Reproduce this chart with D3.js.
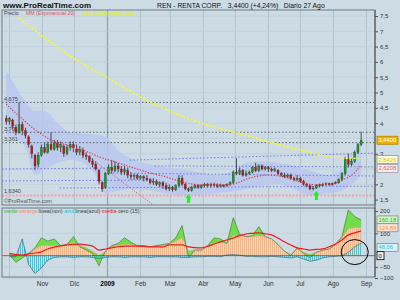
<!DOCTYPE html>
<html>
<head>
<meta charset="utf-8">
<style>
  body { margin: 0; background: #ccdbe4; }
  svg { display: block; font-family: "Liberation Sans", Arial, sans-serif; }
</style>
</head>
<body>
<svg id="chart" width="400" height="300"></svg>
<script src="https://d3js.org/d3.v7.min.js"></script>
<script>
  // candles every 3 days starting 28 Sep 2008, last one 27 Aug 2009
  const START = new Date(2008, 8, 28)
  const openP = [4.15,4.05,4.1,3.85,3.7,3.95,3.75,3.55,3.25,2.95,
    2.65,2.95,3.2,3.05,3.3,3.15,3.35,3.2,3.25,3.0,
    3.2,3.3,3.15,3.05,3.1,2.95,2.9,2.75,2.65,2.45,
    2.05,1.9,2.35,2.55,2.45,2.6,2.5,2.4,2.45,2.3,
    2.25,2.3,2.2,2.25,2.2,2.15,2.05,2.1,2.0,2.05,
    1.95,1.85,1.9,1.82,1.95,2.2,2.0,1.85,1.8,1.9,
    1.95,1.9,1.95,2.0,1.95,2.0,1.98,1.93,1.97,1.95,
    2.0,2.05,2.4,2.35,2.45,2.3,2.35,2.4,2.55,2.45,
    2.6,2.5,2.55,2.5,2.45,2.45,2.35,2.3,2.25,2.3,
    2.2,2.15,2.2,2.1,2.0,1.95,1.85,1.88,1.95,1.98,
    2.0,2.02,1.98,2.03,2.05,2.15,2.35,2.8,2.65,2.75,
    3.05,3.3]
  const closeP = [4.05,4.15,3.9,3.7,3.95,3.75,3.6,3.3,3.0,2.6,
    2.95,3.2,3.05,3.3,3.15,3.35,3.2,3.3,3.0,3.2,
    3.3,3.2,3.05,3.15,2.95,2.9,2.75,2.65,2.5,2.1,
    1.85,2.35,2.55,2.45,2.6,2.5,2.4,2.5,2.3,2.25,
    2.3,2.2,2.25,2.2,2.15,2.05,2.1,2.0,2.05,1.95,
    1.85,1.9,1.82,1.95,2.2,2.0,1.85,1.8,1.9,1.95,
    1.9,1.95,2.0,1.95,2.0,1.98,1.93,1.97,1.95,2.0,
    2.05,2.4,2.35,2.45,2.3,2.35,2.4,2.55,2.45,2.6,
    2.5,2.55,2.5,2.45,2.5,2.35,2.3,2.25,2.3,2.2,
    2.15,2.2,2.1,2.0,1.95,1.85,1.88,1.95,1.98,2.0,
    2.02,1.98,2.03,2.05,2.15,2.35,2.8,2.65,2.75,3.05,
    3.3,3.44]
  const highP = [4.25,4.2,4.15,3.95,4.675,4.05,3.85,3.6,3.3,3.0,
    3.05,3.3,3.35,3.4,3.7,3.45,3.45,3.4,3.3,3.3,
    3.4,3.4,3.3,3.25,3.2,3.05,2.95,2.85,2.75,2.5,
    2.1,2.4,2.65,2.8,2.75,2.7,2.6,2.6,2.55,2.4,
    2.35,2.35,2.3,2.3,2.3,2.2,2.2,2.15,2.1,2.1,
    2.05,2.0,1.95,2.0,2.3,2.3,2.05,1.9,1.95,2.0,
    2.0,2.0,2.05,2.05,2.05,2.05,2.03,2.02,2.0,2.03,
    2.1,2.45,2.85,2.55,2.5,2.45,2.45,2.6,2.7,2.65,
    2.65,2.6,2.6,2.55,2.55,2.5,2.4,2.38,2.35,2.35,
    2.25,2.3,2.25,2.15,2.05,2.0,1.95,2.0,2.02,2.05,
    2.06,2.05,2.06,2.1,2.2,2.4,2.9,3.0,2.85,3.1,
    3.35,3.72]
  const lowP = [3.95,3.95,3.8,3.6,3.65,3.6,3.5,3.2,2.85,2.47,
    2.55,2.9,3.0,3.0,3.1,3.1,3.1,3.05,2.9,2.95,
    3.1,3.05,2.95,2.95,2.85,2.8,2.7,2.55,2.45,2.0,
    1.75,1.85,2.3,2.35,2.4,2.4,2.3,2.3,2.2,2.15,
    2.15,2.15,2.15,2.1,2.1,2.0,1.98,1.95,1.9,1.85,
    1.8,1.78,1.76,1.78,1.9,1.95,1.8,1.75,1.76,1.85,
    1.85,1.85,1.9,1.9,1.9,1.92,1.88,1.9,1.9,1.92,
    1.95,2.0,2.3,2.3,2.25,2.25,2.3,2.35,2.4,2.4,
    2.45,2.45,2.4,2.4,2.4,2.3,2.25,2.2,2.2,2.15,
    2.1,2.1,2.05,1.95,1.9,1.8,1.8,1.85,1.9,1.93,
    1.95,1.95,1.96,2.0,2.02,2.1,2.3,2.55,2.6,2.7,
    3.0,3.25]

  // moving averages, read at some candle indexes
  const ema20Idx = [0,4,10,14,19,24,29,35,40,45,50,55,61,67,72,76,82,87,92,97,102,105,108,111]
  const ema20Val = [4.62,4.23,3.71,3.45,3.28,3.12,2.9,2.7,2.53,2.37,2.24,2.08,1.98,1.98,2.04,2.2,2.3,2.24,2.08,1.98,2.01,2.14,2.3,2.62]
  const ema200Idx = [4,22,30,45,61,71,92,102,107,111]
  const ema200Val = [7.43,6.06,5.57,4.69,4.0,3.71,3.12,2.89,2.86,2.84]

  // pale envelope round the price
  const bandIdx = [0,3,6,9,12,16,20,25,29,31,35,40,45,50,55,60,65,70,75,80,85,90,95,100,105,108,111]
  const bandUp = [5.7,5.2,4.7,4.4,4.4,4.0,3.7,3.65,3.6,3.55,3.1,2.8,2.65,2.55,2.5,2.4,2.3,2.4,2.7,2.75,2.7,2.6,2.45,2.3,2.5,3.0,3.4]
  const bandLo = [3.6,3.5,3.2,2.3,2.5,2.7,2.8,2.65,2.1,1.7,1.8,1.85,1.8,1.7,1.65,1.65,1.7,1.75,1.85,1.95,2.0,1.85,1.65,1.7,1.8,2.0,2.3]

  // horizontal levels
  const levelVals = [4.675, 3.701, 3.361]
  const levelLabels = ['4,675', '3,701', '3,361']
  const supportVal = 1.634
  const supportLabel = '1,6340'

  // blue dotted channel lines
  const blueFrom = ['2009-01-22','2008-09-24','2009-02-14','2008-09-24','2009-01-03','2008-11-17']
  const blueTo = ['2009-09-09','2009-01-03','2009-09-09','2009-02-19','2009-09-09','2009-09-09']
  const blueV1 = [2.79, 2.5, 2.6, 2.11, 2.37, 1.88]
  const blueV2 = [3.02, 2.53, 2.57, 2.14, 2.27, 1.94]

  // steep trend line
  const trendDates = ['2008-12-06', '2009-02-12']
  const trendVals = [3.11, 1.35]

  const arrowIdx = [57, 97]

  // oscillator panel, one value for every second candle (index 2j+1)
  const indG = [5,-30,-10,10,35,80,65,75,45,50,85,40,25,10,-45,20,45,55,80,60,
    45,45,40,45,50,55,80,135,-10,25,25,45,80,75,55,170,95,85,90,130,
    85,75,50,20,0,35,10,-10,15,25,30,50,85,205,175,160]
  const indO = [8,0,0,10,30,45,45,45,45,50,55,45,35,20,0,20,40,45,50,50,
    45,45,40,42,45,50,65,80,20,25,25,40,55,60,55,90,90,85,85,90,
    85,75,50,20,5,30,15,5,15,25,30,50,80,120,125,125]
  const indC = [-5,-5,75,-40,-80,-55,-20,-8,-5,-5,-8,-5,-5,-8,-12,-8,-5,-5,-8,-5,
    -5,-5,-8,-5,-5,-5,-5,-8,-8,-5,-5,-3,-3,-5,3,5,2,-3,-3,-5,
    -5,-3,-5,-8,-10,-5,-15,-25,-20,-10,-5,-3,0,15,40,55]
  const indR = [10,5,3,8,12,17,30,38,44,48,50,52,48,43,25,30,35,40,43,43,
    43,42,39,39,39,48,48,48,39,36,35,42,52,62,70,79,90,97,100,102,
    98,93,79,62,48,35,30,25,28,30,40,52,70,93,102,111]

  const priceTicks = [1.5, 2, 3, 4, 4.5, 5, 5.5, 6, 6.5, 7, 7.5]
  const indTicks = [200, 100, -50, -100]
  const monthNames = ['2009','Feb','Mar','Abr','May','Jun','Jul','Ago','Sep','Oct','Nov','Dic']

  const LEFT = 2, RIGHT = 375
  const P_TOP = 10, P_BOT = 205, I_TOP = 208, I_BOT = 277
  const BG = '#ccdbe4'

  const svg = d3.select('#chart')
  const dates = closeP.map((c, i) => d3.timeDay.offset(START, i * 3))
  const parse = d3.timeParse('%Y-%m-%d')

  const x = d3.scaleTime().domain([new Date(2008, 8, 24), new Date(2009, 8, 9)]).range([LEFT, RIGHT])
  const y = d3.scaleLinear().domain([1.5, 7.5]).range([199.6, 16])
  const yi = d3.scaleLinear().domain([-100, 200]).range([278, 211])
  const comma = d => String(d).replace('.', ',')

  svg.append('rect').attr('width', 400).attr('height', 300).attr('fill', BG)

  const defs = svg.append('defs')
  defs.append('clipPath').attr('id', 'clipP').append('rect')
    .attr('x', LEFT).attr('y', P_TOP).attr('width', RIGHT - LEFT).attr('height', P_BOT - P_TOP)
  defs.append('clipPath').attr('id', 'clipI').append('rect')
    .attr('x', LEFT).attr('y', I_TOP).attr('width', RIGHT - LEFT).attr('height', I_BOT - I_TOP)
  let pat = defs.append('pattern').attr('id', 'orangeStripe').attr('width', 2).attr('height', 4)
    .attr('patternUnits', 'userSpaceOnUse')
  pat.append('rect').attr('width', 2).attr('height', 4).attr('fill', '#f9d2b0')
  pat.append('line').attr('x1', 0.5).attr('x2', 0.5).attr('y1', 0).attr('y2', 4)
    .attr('stroke', '#f0a066').attr('stroke-width', 0.6)
  pat = defs.append('pattern').attr('id', 'cyanStripe').attr('width', 2).attr('height', 4)
    .attr('patternUnits', 'userSpaceOnUse')
  pat.append('line').attr('x1', 0.5).attr('x2', 0.5).attr('y1', 0).attr('y2', 4)
    .attr('stroke', '#22d4ee').attr('stroke-width', 1)

  // grid
  const months = d3.timeMonth.range(new Date(2008, 9, 1), new Date(2009, 8, 2))
  const grid = svg.append('g')
  months.forEach(m => {
    const dark = m.getMonth() === 0
    ;[[P_TOP, P_BOT], [I_TOP, I_BOT]].forEach(r => {
      grid.append('line').attr('x1', x(m)).attr('x2', x(m)).attr('y1', r[0]).attr('y2', r[1])
        .attr('stroke', dark ? '#8fa2b0' : '#b1c4d0').attr('stroke-width', dark ? 1.2 : 1)
    })
  })
  d3.range(2, 7.6, 0.5).forEach(v => {
    grid.append('line').attr('x1', LEFT).attr('x2', RIGHT).attr('y1', y(v)).attr('y2', y(v))
      .attr('stroke', '#bfd0da').attr('stroke-width', 0.8)
  })
  indTicks.concat([0]).forEach(v => {
    grid.append('line').attr('x1', LEFT).attr('x2', RIGHT).attr('y1', yi(v)).attr('y2', yi(v))
      .attr('stroke', '#bfd0da').attr('stroke-width', 0.8)
  })

  // price panel
  const pg = svg.append('g').attr('clip-path', 'url(#clipP)')
  const bandData = bandIdx.map((d, k) => ({ date: dates[d], up: bandUp[k], lo: bandLo[k] }))
  pg.append('path').datum(bandData)
    .attr('d', d3.area().x(d => x(d.date)).y0(d => y(d.lo)).y1(d => y(d.up)).curve(d3.curveMonotoneX))
    .attr('fill', '#b8c7ee').attr('opacity', 0.85)

  levelVals.forEach((v, k) => {
    pg.append('line').attr('x1', LEFT).attr('x2', RIGHT).attr('y1', y(v)).attr('y2', y(v))
      .attr('stroke', '#555').attr('stroke-width', 0.9).attr('stroke-dasharray', '1.5,2')
    pg.append('text').attr('x', 4).attr('y', y(v) - 1.5).text(levelLabels[k])
      .attr('font-size', 5.5).attr('fill', '#444')
  })

  blueFrom.forEach((d, k) => {
    pg.append('line')
      .attr('x1', x(parse(d))).attr('x2', x(parse(blueTo[k])))
      .attr('y1', y(blueV1[k])).attr('y2', y(blueV2[k]))
      .attr('stroke', '#6b6cf2').attr('stroke-width', 0.9).attr('stroke-dasharray', '1.5,2')
  })

  pg.append('line').attr('x1', LEFT).attr('x2', RIGHT).attr('y1', y(supportVal)).attr('y2', y(supportVal))
    .attr('stroke', '#f3a0ad').attr('stroke-width', 2).attr('stroke-dasharray', '2,1.5')
  pg.append('text').attr('x', 4).attr('y', y(supportVal) - 2).text(supportLabel)
    .attr('font-size', 5.5).attr('fill', '#444')

  pg.append('line')
    .attr('x1', x(parse(trendDates[0]))).attr('x2', x(parse(trendDates[1])))
    .attr('y1', y(trendVals[0])).attr('y2', y(trendVals[1]))
    .attr('stroke', '#ee5566').attr('stroke-width', 1).attr('stroke-dasharray', '1.2,1.5')

  // candles
  const candles = pg.append('g')
  closeP.forEach((c, i) => {
    const cx = x(dates[i])
    const up = c >= openP[i]
    candles.append('line').attr('x1', cx).attr('x2', cx)
      .attr('y1', y(highP[i])).attr('y2', y(lowP[i]))
      .attr('stroke', '#4a4a4a').attr('stroke-width', 1)
    candles.append('rect').attr('x', cx - 1).attr('width', 2)
      .attr('y', y(Math.max(c, openP[i])))
      .attr('height', Math.max(1, Math.abs(y(c) - y(openP[i]))))
      .attr('fill', up ? '#10a010' : '#cc1010')
      .attr('stroke', '#333').attr('stroke-width', 0.3)
  })

  const emaLine = d3.line().x(d => x(d.date)).y(d => y(d.v)).curve(d3.curveMonotoneX)
  pg.append('path').datum(ema20Idx.map((d, k) => ({ date: dates[d], v: ema20Val[k] })))
    .attr('d', emaLine).attr('fill', 'none')
    .attr('stroke', '#e8303a').attr('stroke-width', 1.2).attr('stroke-dasharray', '1.2,1.6')
  pg.append('path').datum(ema200Idx.map((d, k) => ({ date: dates[d], v: ema200Val[k] })))
    .attr('d', emaLine).attr('fill', 'none')
    .attr('stroke', '#ffff00').attr('stroke-width', 1.6).attr('stroke-dasharray', '2,2')

  // buy arrows
  arrowIdx.forEach(i => {
    const ax = x(dates[i]), ay = y(lowP[i]) + 2
    pg.append('path')
      .attr('d', `M${ax},${ay} l3,4 h-1.6 v5 h-2.8 v-5 h-1.6 z`)
      .attr('fill', '#22ee22')
  })

  pg.append('text').attr('x', 4).attr('y', 203).text('©ProRealTime.com')
    .attr('font-size', 5.5).attr('fill', '#555')

  // oscillator panel
  const ig = svg.append('g').attr('clip-path', 'url(#clipI)')
  const ind = indG.map((g, j) => ({ date: dates[2 * j + 1], g: g, o: indO[j], c: indC[j], r: indR[j] }))
  ig.append('path').datum(ind)
    .attr('d', d3.area().x(d => x(d.date)).y0(yi(0)).y1(d => yi(d.o)))
    .attr('fill', 'url(#orangeStripe)')
  ig.append('path').datum(ind)
    .attr('d', d3.area().x(d => x(d.date)).y0(d => yi(d.o)).y1(d => yi(d.g)))
    .attr('fill', '#6ede4a')
  ig.append('path').datum(ind)
    .attr('d', d3.line().x(d => x(d.date)).y(d => yi(d.o)))
    .attr('fill', 'none').attr('stroke', '#e8a070').attr('stroke-width', 0.6)
  ig.append('path').datum(ind)
    .attr('d', d3.line().x(d => x(d.date)).y(d => yi(d.g)))
    .attr('fill', 'none').attr('stroke', '#4f7d3c').attr('stroke-width', 0.7)
  ig.append('path').datum(ind)
    .attr('d', d3.area().x(d => x(d.date)).y0(yi(0)).y1(d => yi(d.c)))
    .attr('fill', 'url(#cyanStripe)')
  ig.append('path').datum(ind)
    .attr('d', d3.line().x(d => x(d.date)).y(d => yi(d.c)))
    .attr('fill', 'none').attr('stroke', '#2a5a6a').attr('stroke-width', 0.6)
  ig.append('line').attr('x1', LEFT).attr('x2', RIGHT).attr('y1', yi(0)).attr('y2', yi(0))
    .attr('stroke', '#333').attr('stroke-width', 0.6)
  ig.append('path').datum(ind)
    .attr('d', d3.line().x(d => x(d.date)).y(d => yi(d.r)).curve(d3.curveMonotoneX))
    .attr('fill', 'none').attr('stroke', '#ee1c1c').attr('stroke-width', 1.2)

  ig.append('ellipse').attr('cx', x(dates[109])).attr('cy', yi(16)).attr('rx', 13.5).attr('ry', 12.5)
    .attr('fill', 'none').attr('stroke', '#000').attr('stroke-width', 1)

  // legend of the oscillator
  const leg = svg.append('text').attr('x', 4).attr('y', 213).attr('font-size', 5.4)
  ;[['verde', '#33cc33'], [' naranja', '#f09860'], [' linea(non)', '#444'], [' azul', '#22c8e0'],
    [' linea(azul)', '#444'], [' media', '#e02020'], [' cero (15)', '#444']].forEach(p => {
    leg.append('tspan').text(p[0]).attr('fill', p[1])
  })

  // frames
  const frame = svg.append('g').attr('fill', 'none').attr('stroke', '#6d7a84').attr('stroke-width', 1)
  frame.append('rect').attr('x', LEFT).attr('y', P_TOP).attr('width', RIGHT - LEFT).attr('height', P_BOT - P_TOP)
  frame.append('rect').attr('x', LEFT).attr('y', I_TOP).attr('width', RIGHT - LEFT).attr('height', I_BOT - I_TOP)

  // right axes
  const pAxis = svg.append('g').attr('transform', `translate(${RIGHT},0)`)
    .call(d3.axisRight(y).tickValues(priceTicks).tickSize(3).tickFormat(comma))
  const iAxis = svg.append('g').attr('transform', `translate(${RIGHT},0)`)
    .call(d3.axisRight(yi).tickValues(indTicks).tickSize(3))
  ;[pAxis, iAxis].forEach(a => {
    a.select('.domain').remove()
    a.selectAll('line').attr('stroke', '#555')
    a.selectAll('text').attr('font-size', 6).attr('fill', '#333').attr('x', 5)
      .attr('font-family', '"Liberation Sans", Arial, sans-serif')
  })
  svg.append('line').attr('x1', RIGHT).attr('x2', RIGHT).attr('y1', P_TOP).attr('y2', I_BOT)
    .attr('stroke', '#555').attr('stroke-width', 1)

  // value boxes on the right
  function valueBox(yy, label, fill, stroke, color, w) {
    svg.append('rect').attr('x', 377).attr('y', yy - 4).attr('width', w).attr('height', 8)
      .attr('fill', fill).attr('stroke', stroke).attr('stroke-width', 0.8)
    svg.append('text').attr('x', 378.5).attr('y', yy + 2).text(label)
      .attr('font-size', 5.8).attr('fill', color)
  }
  valueBox(y(closeP[closeP.length - 1]), '3,4400', '#f0b400', '#b08000', '#fff', 21)
  valueBox(y(ema200Val[ema200Val.length - 1]) + 1, '2,8426', '#fbfbd8', '#999', '#d6c800', 21)
  valueBox(y(ema20Val[ema20Val.length - 1]) + 3, '2,6208', '#f6eef0', '#999', '#e05a60', 21)
  valueBox(yi(indG[indG.length - 1]), '160,18', '#d6f4cc', '#888', '#22b022', 21)
  valueBox(yi(indO[indO.length - 1]), '124,89', '#fae4d2', '#888', '#f09050', 21)
  valueBox(yi(indC[indC.length - 1]) + 4, '48,06', '#d6f4f8', '#888', '#20c0e0', 21)
  valueBox(yi(0), '0', '#eeeeee', '#000', '#000', 7)

  // month labels
  months.filter(m => m >= new Date(2008, 10, 1)).forEach(m => {
    svg.append('text').attr('x', x(m)).attr('y', 286).attr('text-anchor', 'middle')
      .attr('font-size', 6.5).attr('fill', m.getMonth() === 0 ? '#000' : '#333')
      .attr('font-weight', m.getMonth() === 0 ? 'bold' : 'normal')
      .text(monthNames[(m.getMonth() + 12) % 12])
  })

  // headers
  svg.append('text').attr('x', 3).attr('y', 8).text('www.ProRealTime.com')
    .attr('font-size', 8).attr('font-weight', 'bold').attr('fill', '#111')
  svg.append('text').attr('x', 157).attr('y', 7.5)
    .text('REN - RENTA CORP.   3,4400 (+4,24%)   Diario 27 Ago')
    .attr('font-size', 6.8).attr('fill', '#111').attr('xml:space', 'preserve')
    .style('white-space', 'pre')

  const legendTop = svg.append('text').attr('x', 4).attr('y', 15).attr('font-size', 5.2)
  legendTop.append('tspan').text('Precio').attr('fill', '#444')
  legendTop.append('tspan').attr('x', 26).text('MM (Exponencial 20)').attr('fill', '#e05050')
  legendTop.append('tspan').attr('x', 83).text('MM (Exponencial 200)').attr('fill', '#e8e800')
</script>
</body>
</html>
